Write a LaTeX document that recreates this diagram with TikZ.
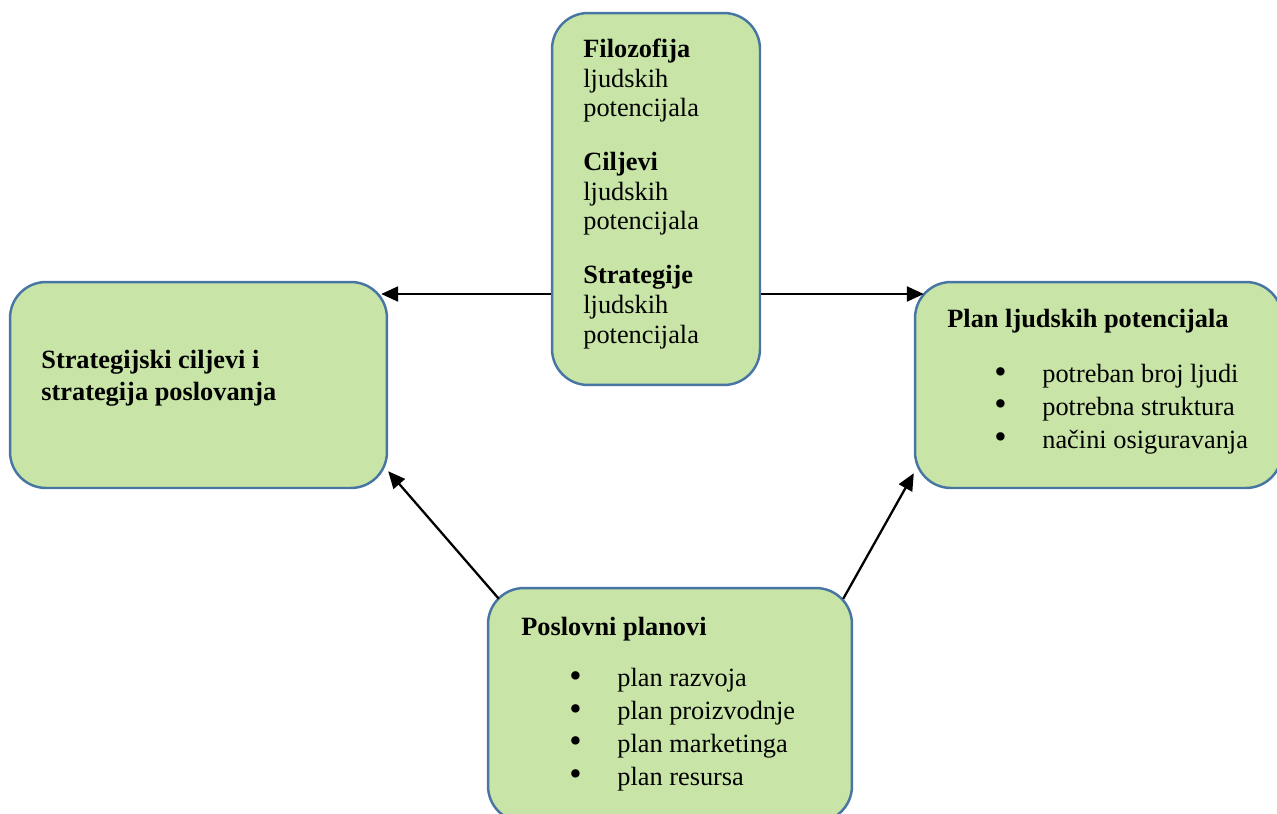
\documentclass[tikz,border=0pt]{standalone}
\usepackage{fontspec}
\setmainfont{Liberation Serif}
\usepackage{tikz}
\usetikzlibrary{arrows.meta,calc}

\definecolor{boxgreen}{RGB}{200,228,166}
\definecolor{boxblue}{RGB}{72,118,163}

\newcommand{\stavka}[1]{\makebox[0.96cm][l]{\raisebox{-0.3pt}{\fontsize{20pt}{0pt}\selectfont\textbullet}}#1}

\begin{document}
\begin{tikzpicture}[x=0.02cm,y=-0.02cm,
    box/.style={draw=boxblue,fill=boxgreen,line width=1.4pt,rounded corners=0.72cm,
      inner sep=0pt},
    txt/.style={anchor=base west,align=left,inner sep=0pt,
      font=\fontsize{15pt}{16.8pt}\selectfont},
    lista/.style={txt,font=\fontsize{15pt}{18.6pt}\selectfont},
    arr/.style={-{Triangle[length=0.34cm,width=0.3cm]},line width=1.3pt}]
    \useasboundingbox (0,0) rectangle (1277,814);
    \clip (0,0) rectangle (1277,814);

    % boxes
    \node[box,minimum width=4.16cm,minimum height=7.44cm] (filoz) at (656,199) {};
    \node[box,minimum width=7.54cm,minimum height=4.12cm] (strat) at (198.5,385) {};
    \node[box,minimum width=7.34cm,minimum height=4.12cm] (plan) at (1098.5,385) {};
    \node[box,minimum width=7.28cm,minimum height=4.68cm] (posl) at (670,705) {};

    % texts (base = last line)
    \node[txt] (filoz-t) at (583,343) {\textbf{Filozofija}\\ljudskih\\potencijala\\[0.49cm]
      \textbf{Ciljevi}\\ljudskih\\potencijala\\[0.49cm]
      \textbf{Strategije}\\ljudskih\\potencijala};
    \node[txt,font=\fontsize{15pt}{18pt}\selectfont\bfseries] (strat-t) at (41,400)
      {Strategijski ciljevi i\\strategija poslovanja};
    \node[txt,font=\fontsize{15pt}{16.8pt}\selectfont\bfseries] (plan-t) at (947,327)
      {Plan ljudskih potencijala};
    \node[lista] (plan-l) at (994,448) {\stavka{potreban broj ljudi}\\
      \stavka{potrebna struktura}\\\stavka{načini osiguravanja}};
    \node[txt,font=\fontsize{15pt}{16.8pt}\selectfont\bfseries] (posl-t) at (521,635)
      {Poslovni planovi};
    \node[lista] (posl-l) at (569,785) {\stavka{plan razvoja}\\\stavka{plan proizvodnje}\\
      \stavka{plan marketinga}\\\stavka{plan resursa}};

    % arrows
    \coordinate (hl) at (0,294);
    \draw[arr,shorten >=-0.14cm] (filoz.west |- hl) -- (strat.east |- hl);
    \draw[arr,shorten >=-0.2cm] (filoz.east |- hl) -- (plan.west |- hl);
    \draw[arr] ($(posl.north west)+(12,12)$) -- ($(strat.south east)+(0,-18)$);
    \draw[arr] ($(posl.north east)+(-10,12)$) -- ($(plan.south west)+(0,-16)$);
\end{tikzpicture}
\end{document}
